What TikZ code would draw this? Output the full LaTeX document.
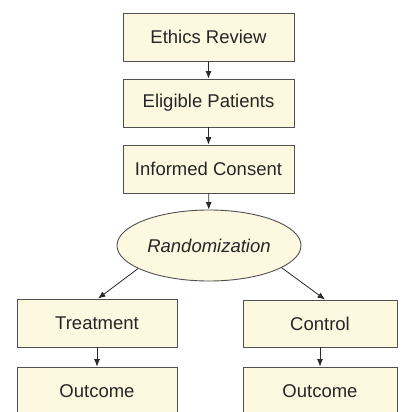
\documentclass[tikz,border=0pt]{standalone}
\usepackage{fontspec}
\setmainfont{Liberation Sans}
\usetikzlibrary{shapes.geometric,arrows.meta}
\definecolor{boxfill}{HTML}{FDF8E0}
\definecolor{boxline}{HTML}{505050}
\definecolor{arrowcol}{HTML}{2A2A2A}
\begin{document}
\begin{tikzpicture}[x=1pt,y=-1pt,
  box/.style={draw=boxline,fill=boxfill,line width=0.9pt,inner sep=0pt,
    font=\fontsize{18.5}{21}\selectfont,text=black!85},
  conn/.style={draw=arrowcol,line width=0.8pt,-{Latex[length=7.5pt,width=6pt]}}]
\useasboundingbox (0,0) rectangle (405,412);
\begin{scope}
\clip (0,0) rectangle (405,412);
\node[box,minimum width=171pt,minimum height=48pt] (ethics) at (208.5,37) {Ethics Review};
\node[box,minimum width=171pt,minimum height=48pt] (elig) at (208.5,103) {Eligible Patients};
\node[box,minimum width=171pt,minimum height=48pt] (cons) at (208.5,169) {Informed Consent};
\node[box,ellipse,minimum width=184pt,minimum height=71pt] (rand) at (209,245.5) {\itshape Randomization};
\node[box,minimum width=160pt,minimum height=48pt] (treat) at (97,323) {Treatment};
\node[box,minimum width=154pt,minimum height=47pt] (ctrl) at (320,323.5) {Control};
\node[box,minimum width=160pt,minimum height=48pt] (out1) at (97,391) {Outcome};
\node[box,minimum width=154pt,minimum height=48pt] (out2) at (320,391) {Outcome};
\end{scope}
\draw[conn] (ethics) -- (elig);
\draw[conn] (elig) -- (cons);
\draw[conn] (cons) -- (rand);
\draw[conn] (rand.198) -- ([xshift=1pt]treat.north);
\draw[conn] (rand.-17) -- ([xshift=5pt]ctrl.north);
\draw[conn] (treat) -- (out1);
\draw[conn] (ctrl) -- (out2);
\end{tikzpicture}
\end{document}
